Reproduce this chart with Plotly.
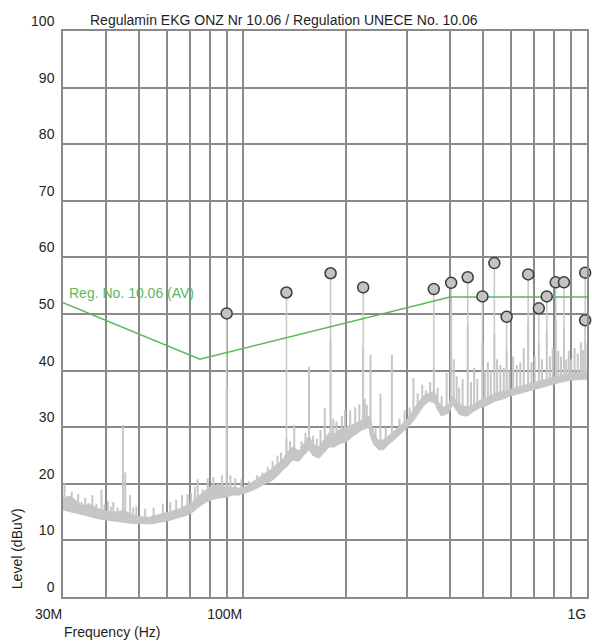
import numpy as np
import plotly.graph_objects as go

# ---------------- data ----------------
# measured noise floor (MHz, lower edge dB, upper edge dB)
floor_mhz = [30, 31.5, 33, 34.3, 36, 38, 40, 42.5, 45, 47.5, 50, 53.5, 57.3, 61, 65.5, 68.5,
             71.5, 74, 78.2, 81, 85.4, 89, 93.4, 97, 102, 108, 112, 116.7, 121, 125, 130.4,
             134, 139.4, 145.6, 150, 155.6, 160, 166.3, 172, 177.8, 184, 190, 200.5, 210,
             221.6, 228, 232.2, 236, 240, 248.2, 256, 265.3, 278, 290, 301, 312, 324, 335,
             346.3, 355, 362.9, 370, 377.8, 386, 395.8, 406, 415, 425, 437, 450, 467.5, 490,
             510, 540, 571, 605, 639.7, 675, 711.7, 750, 797, 845, 892.5, 945, 1000]
floor_lo = [15.4, 15.0, 14.8, 14.5, 14.2, 13.8, 13.6, 13.4, 13.2, 13.0, 13.0, 12.9, 13.2, 13.5,
            14.1, 14.4, 15.0, 15.8, 16.8, 17.2, 17.5, 17.6, 18.0, 18.0, 18.4, 19.0, 19.5, 20.1,
            20.5, 21.2, 22.4, 23.0, 24.2, 24.0, 25.0, 26.0, 25.0, 24.5, 25.5, 26.5, 26.5, 27.0,
            27.5, 28.5, 29.5, 29.8, 30.0, 28.0, 27.0, 26.0, 26.0, 27.0, 28.0, 29.0, 30.0, 31.0,
            32.5, 33.8, 34.5, 34.5, 34.0, 32.8, 32.0, 32.2, 32.5, 34.0, 33.2, 32.3, 32.0, 32.0,
            32.8, 33.5, 33.8, 34.6, 35.0, 35.6, 36.0, 36.4, 36.8, 37.2, 37.6, 38.0, 38.3, 38.4, 38.5]
floor_hi = [17.5, 17.8, 16.8, 16.2, 16.3, 15.6, 15.2, 15.0, 15.3, 14.6, 14.2, 14.1, 14.6, 15.0,
            15.6, 16.2, 16.8, 17.8, 19.0, 19.6, 19.8, 19.5, 19.4, 19.2, 19.5, 20.5, 21.2, 21.9,
            22.6, 23.4, 24.2, 25.5, 26.5, 25.8, 27.0, 28.5, 27.0, 26.5, 27.8, 29.0, 28.8, 29.5,
            30.0, 30.5, 31.2, 31.8, 32.0, 31.0, 29.0, 27.5, 27.8, 28.5, 29.5, 30.5, 31.5, 33.0,
            34.5, 35.5, 36.0, 36.2, 36.0, 34.5, 33.5, 33.6, 34.0, 35.5, 34.8, 34.0, 33.8, 33.5,
            34.0, 34.8, 35.2, 36.0, 36.3, 36.8, 37.2, 37.6, 38.0, 38.4, 38.8, 39.2, 39.5, 39.8, 40.0]

# narrow spectrum spikes (MHz, peak dB)
spike_mhz = [30.3, 31.0, 31.8, 32.5, 33.2, 34.0, 34.8, 35.6, 36.5, 37.5, 38.8, 39.6, 40.5, 41.3,
             42.0, 43.2, 44.8, 45.5, 47.0, 48.0, 49.0, 52.0, 55.0,
             58.5, 61.5, 64.0, 66.5, 69.0, 70.7, 72.5, 73.9, 76.4, 79.0, 82.0, 84.5, 87.0, 89.7,
             92.0, 95.0, 99.0, 104.0, 110.0, 114.0, 118.0, 122.0, 126.0, 129.0, 133.8, 137.0,
             141.0, 148.0, 152.0, 155.6, 160.0, 164.0, 168.0, 173.0, 179.8, 183.0, 187.0, 194.0,
             198.0, 205.0, 212.0, 218.0, 223.6, 226.0, 229.0, 234.9, 243.0, 251.0, 260.0, 271.0,
             285.0, 295.0, 305.0, 313.0, 322.0, 332.0, 340.0, 350.0, 358.7, 368.0, 378.0, 391.0,
             402.9, 410.0, 418.0, 425.0, 435.0, 450.1, 460.0, 470.0, 480.0, 496.6, 505.0, 515.0,
             525.0, 538.0, 548.0, 560.0, 573.0, 583.9, 595.0, 610.0, 625.0, 640.0, 655.0, 674.5,
             690.0, 705.0, 724.4, 740.0, 763.9, 780.0, 795.0, 811.0, 825.0, 840.0, 857.0, 870.0,
             885.0, 900.0, 920.0, 940.0, 960.0, 975.0, 990.0]
spike_db = [20.0, 17.8, 18.6, 17.2, 18.2, 16.8, 17.5, 16.6, 18.0, 16.5, 19.0, 16.4, 17.0, 16.0,
            16.8, 15.8, 30.4, 22.0, 18.0, 15.8, 16.0, 15.6, 15.8,
            16.5, 16.8, 17.2, 18.0, 18.2, 18.4, 19.5, 20.8, 19.0, 21.0, 21.2, 20.0, 21.5, 37.0,
            21.5, 21.0, 20.8, 20.5, 21.5, 22.0, 23.0, 24.0, 25.0, 25.5, 28.0, 27.5,
            30.4, 27.5, 29.0, 40.7, 28.5, 28.0, 29.5, 33.4, 45.4, 31.5, 31.0, 32.0,
            33.0, 33.0, 33.5, 34.0, 44.0, 35.0, 34.0, 42.8, 30.0, 35.9, 30.0, 42.8,
            31.5, 33.0, 33.5, 38.7, 36.0, 37.5, 36.5, 38.0, 40.5, 37.0, 35.5, 39.6,
            52.8, 42.0, 39.0, 37.0, 38.5, 48.0, 38.0, 40.5, 38.5, 45.0, 40.0, 41.5,
            40.0, 46.6, 42.0, 41.0, 40.5, 43.5, 40.0, 42.5, 41.0, 41.5, 44.0, 48.6,
            41.5, 42.5, 45.0, 42.0, 47.0, 42.5, 44.0, 49.0, 43.5, 42.5, 47.7, 42.0,
            43.5, 42.0, 44.0, 43.0, 45.0, 43.6, 45.0]

# final measurement peaks (MHz, dB)
peak_mhz = [89.7, 133.8, 179.8, 223.6, 358.7, 402.9, 450.1, 496.6, 537.9, 583.9, 674.5,
            724.4, 763.9, 811.0, 857.0, 988.0, 988.0]
peak_db = [50.1, 53.8, 57.2, 54.7, 54.4, 55.5, 56.5, 53.1, 59.0, 49.5, 57.0,
           51.0, 53.1, 55.6, 55.6, 57.3, 48.9]

# limit line Reg. No. 10.06 (AV)
limit_mhz = [30, 75, 400, 1000]
limit_db = [52, 42, 53, 53]

grid_mhz = [30, 40, 50, 60, 70, 80, 90, 100, 200, 300, 400, 500, 600, 700, 800, 900, 1000]
xtick_labels = {30: "30M", 100: "100M", 1000: "1G"}
small_tick_mhz = [50, 500]
y_ticks = [0, 10, 20, 30, 40, 50, 60, 70, 80, 90, 100]

# ---------------- figure ----------------
FONT = "Liberation Sans, Arial, sans-serif"
GRID = "#8a8a8a"
SPEC = "#c6c6c6"
GREEN = "#5bb85b"

hz = lambda lst: [v * 1e6 for v in lst]
log_f = np.log10(floor_mhz)


def floor_at(mhz):
    return float(np.interp(np.log10(mhz), log_f, floor_lo))


fig = go.Figure()

# noise floor band
fig.add_trace(go.Scatter(
    x=hz(floor_mhz) + hz(floor_mhz[::-1]),
    y=floor_hi + floor_lo[::-1],
    mode="lines", fill="toself", fillcolor=SPEC,
    line=dict(color=SPEC, width=1), hoverinfo="skip", showlegend=False))

# spikes
sx, sy = [], []
for f, p in zip(spike_mhz, spike_db):
    sx += [f * 1e6, f * 1e6, None]
    sy += [floor_at(f), p, None]
fig.add_trace(go.Scatter(x=sx, y=sy, mode="lines",
                         line=dict(color=SPEC, width=2), hoverinfo="skip", showlegend=False))

# stems to peak markers
tx, ty = [], []
for f, p in zip(peak_mhz, peak_db):
    tx += [f * 1e6, f * 1e6, None]
    ty += [floor_at(f), p, None]
fig.add_trace(go.Scatter(x=tx, y=ty, mode="lines",
                         line=dict(color="#c8c8c8", width=1.5), hoverinfo="skip", showlegend=False))

# limit line
fig.add_trace(go.Scatter(x=hz(limit_mhz), y=limit_db, mode="lines",
                         line=dict(color=GREEN, width=1.5), showlegend=False))

# peak markers
fig.add_trace(go.Scatter(x=hz(peak_mhz), y=peak_db, mode="markers", cliponaxis=False,
                         marker=dict(size=11, color="#c3c3c3",
                                     line=dict(color="#3c3c3c", width=1.5)),
                         showlegend=False))

# small extra tick marks below the axis
fig.add_trace(go.Scatter(x=hz(small_tick_mhz), y=[-0.45] * len(small_tick_mhz),
                         mode="markers", cliponaxis=False,
                         marker=dict(symbol="line-ns", size=5,
                                     line=dict(color=GRID, width=1.5)),
                         hoverinfo="skip", showlegend=False))

fig.update_layout(
    width=592, height=641,
    margin=dict(l=63, r=3, t=31, b=44),
    paper_bgcolor="white", plot_bgcolor="white",
    font=dict(family=FONT, size=14, color="#1e1e1e"),
    showlegend=False,
    xaxis=dict(
        type="log", range=[np.log10(30e6), 9],
        tickvals=hz(grid_mhz),
        ticktext=[xtick_labels.get(g, "") for g in grid_mhz],
        ticks="", ticklabelposition="outside left", ticklabelstandoff=3,
        tickfont=dict(size=14),
        showgrid=True, gridcolor=GRID, gridwidth=1.5,
        showline=True, linecolor=GRID, linewidth=1.5, mirror=True,
        zeroline=False),
    yaxis=dict(
        range=[0, 100], tickvals=y_ticks,
        ticks="", ticklabelshift=-10, ticklabelstandoff=4,
        tickfont=dict(size=14),
        showgrid=True, gridcolor=GRID, gridwidth=1.5,
        showline=True, linecolor=GRID, linewidth=1.5, mirror=True,
        zeroline=False),
)

fig.add_annotation(text="Regulamin EKG ONZ Nr 10.06 / Regulation UNECE No. 10.06",
                   xref="paper", yref="paper", x=(88 - 63) / 526, y=1 + (31 - 20) / 566,
                   xanchor="left", yanchor="middle", showarrow=False, font=dict(size=14))
fig.add_annotation(text="Level (dBuV)", textangle=-90,
                   xref="paper", yref="paper", x=(17 - 63) / 526, y=(597 - 549) / 566,
                   xanchor="center", yanchor="middle", showarrow=False, font=dict(size=14))
fig.add_annotation(text="Frequency (Hz)",
                   xref="paper", yref="paper", x=(62 - 63) / 526, y=(597 - 632) / 566,
                   xanchor="left", yanchor="middle", showarrow=False, font=dict(size=14))
fig.add_annotation(text="Reg. No. 10.06 (AV)",
                   xref="x", yref="y", x=np.log10(limit_mhz[0] * 1e6), y=53.7, xshift=4,
                   xanchor="left", yanchor="middle", showarrow=False,
                   font=dict(size=14, color=GREEN))

fig.write_html("out.html")
